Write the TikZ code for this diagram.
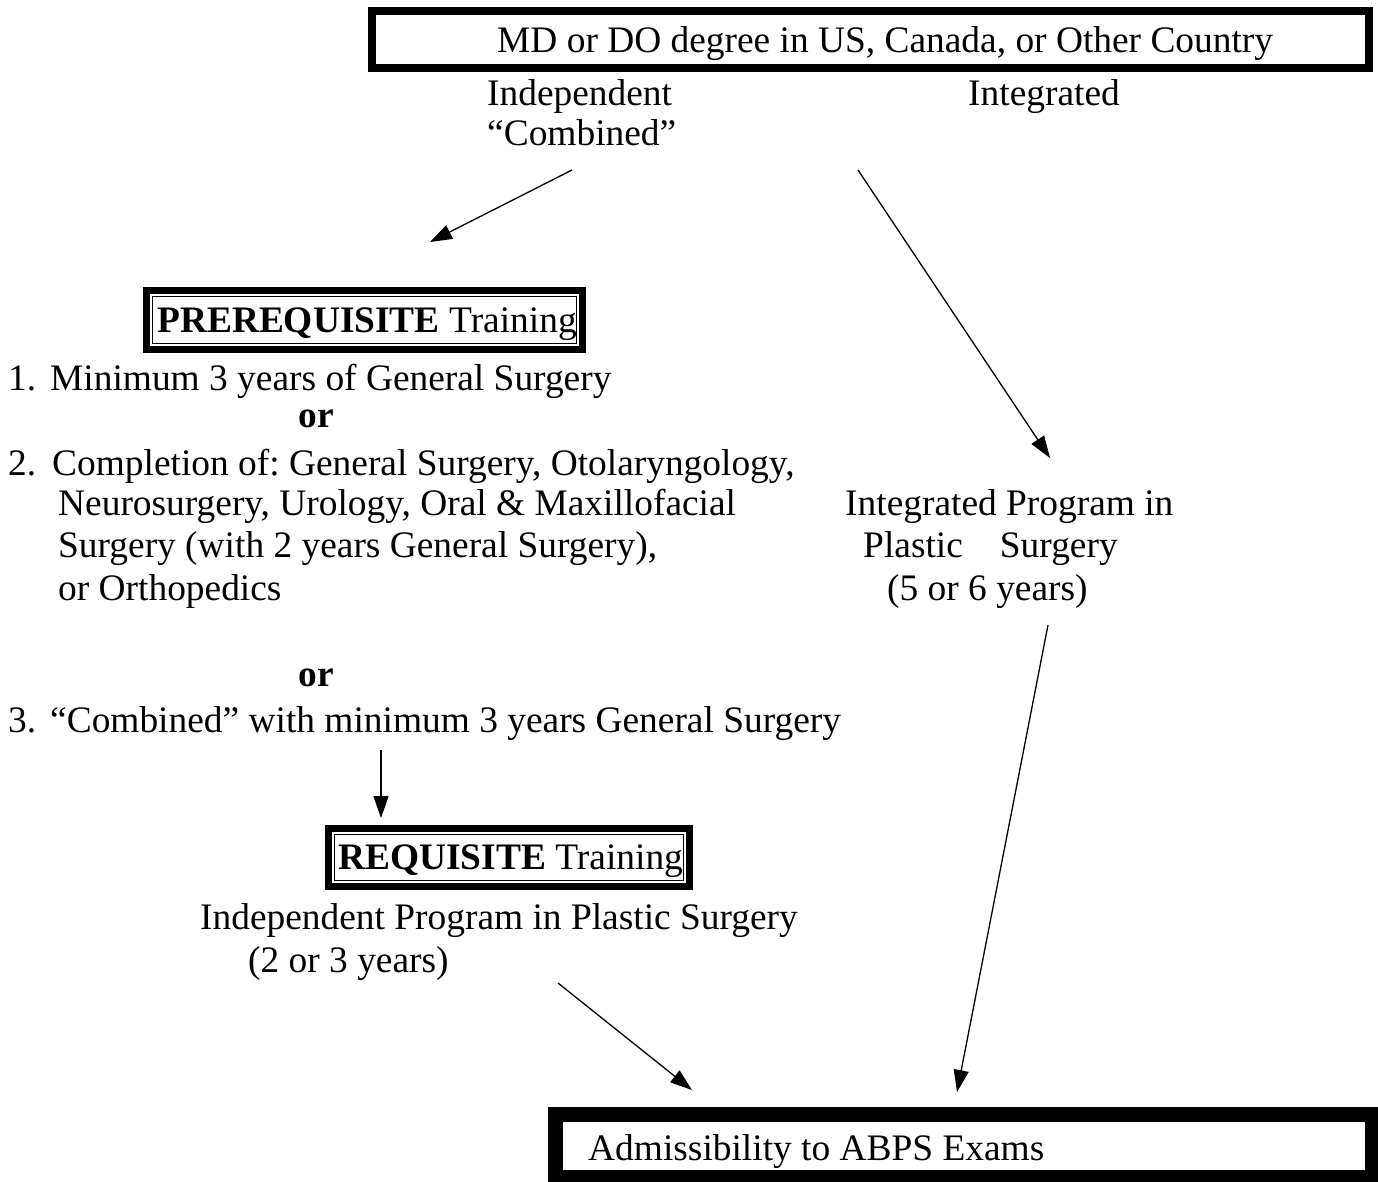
\documentclass[tikz,border=0pt]{standalone}
\usepackage{fontspec}
\setmainfont{Liberation Serif}
\usetikzlibrary{arrows.meta}
\frenchspacing
\begin{document}
\begin{tikzpicture}[x=1bp,y=-1bp,
  txt/.style={anchor=base west, inner sep=0pt, font=\fontsize{37.4bp}{42bp}\selectfont},
  ctxt/.style={anchor=base, inner sep=0pt, font=\fontsize{37.4bp}{42bp}\selectfont\bfseries},
  frame/.style={draw, line width=#1, inner sep=0pt, outer sep=0pt},
  thin frame/.style={line width=1.3bp},
  arr/.style={line width=1.3bp, -{Triangle[length=22bp,width=15bp]}}]
\useasboundingbox (0,0) rectangle (1378,1181);
\clip (0,0) rectangle (1378,1181);
% frames
\node[frame=8bp, minimum width=997bp, minimum height=57bp] (topbox) at (870.5,39.5) {};
\node[frame=7bp, minimum width=436bp, minimum height=59bp] (prebox) at (364.5,320) {};
\draw[thin frame] ([shift={(6.2,6.2)}]prebox.north west) rectangle ([shift={(-6.2,-6.2)}]prebox.south east);
\node[frame=7bp, minimum width=361bp, minimum height=58bp] (reqbox) at (509,857.5) {};
\draw[thin frame] ([shift={(6.2,6.2)}]reqbox.north west) rectangle ([shift={(-6.2,-6.2)}]reqbox.south east);
\node[frame=15bp, minimum width=817bp, minimum height=63bp] (botbox) at (964,1146) {};
% texts
\node[txt] (mdtext) at (497,52) {MD or DO degree in US, Canada, or Other Country};
\node[txt] (indep) at (487,105) {Independent};
\node[txt] (comb) at (487,145) {``Combined''};
\node[txt] (integ) at (968,105) {Integrated};
\node[txt] (pretext) at (157,332) {\textbf{PREREQUISITE} Training};
\node[txt] (n1) at (8,390) {1.};
\node[txt] (l1) at (50,390) {Minimum 3 years of General Surgery};
\node[ctxt] (or1) at (316,427) {or};
\node[txt] (n2) at (8,475) {2.};
\node[txt] (l2a) at (52,475) {Completion of: General Surgery, Otolaryngology,};
\node[txt] (l2b) at (58,515) {Neurosurgery, Urology, Oral \& Maxillofacial};
\node[txt] (l2c) at (58,557) {Surgery (with 2 years General Surgery),};
\node[txt] (l2d) at (58,600) {or Orthopedics};
\node[ctxt] (or2) at (316,686) {or};
\node[txt] (n3) at (8,732) {3.};
\node[txt] (l3) at (50,732) {``Combined'' with minimum 3 years General Surgery};
\node[txt] (reqtext) at (338,869) {\textbf{REQUISITE} Training};
\node[txt] (indprog) at (200,929) {Independent Program in Plastic Surgery};
\node[txt] (indyrs) at (248,972) {(2 or 3 years)};
\node[txt] (intprog) at (845,515) {Integrated Program in};
\node[txt] (intplast) at (863,557) {Plastic\hspace{37bp}Surgery};
\node[txt] (intyrs) at (887,600) {(5 or 6 years)};
\node[txt] (admtext) at (588,1160) {Admissibility to ABPS Exams};
% connector ends
\coordinate (a1s) at (572,170); \coordinate (a1e) at (430,242);
\coordinate (a2s) at (858,170); \coordinate (a2e) at (1050,458);
\coordinate (a3s) at (381,750); \coordinate (a3e) at (381,818);
\coordinate (a4s) at (558,983); \coordinate (a4e) at (692,1090);
\coordinate (a5s) at (1048,625); \coordinate (a5e) at (957,1092);
\draw[arr] (a1s) -- (a1e);
\draw[arr] (a2s) -- (a2e);
\draw[arr] (a3s) -- (a3e);
\draw[arr] (a4s) -- (a4e);
\draw[arr] (a5s) -- (a5e);
\end{tikzpicture}
\end{document}
